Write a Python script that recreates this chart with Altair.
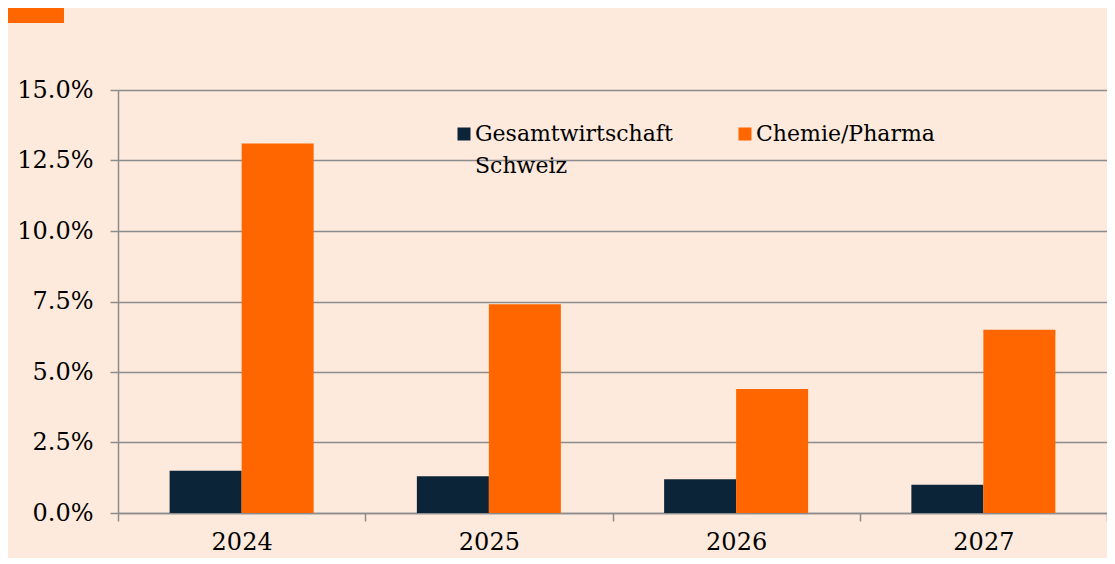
import altair as alt
import pandas as pd

years = ["2024", "2025", "2026", "2027"]
series = ["Gesamtwirtschaft Schweiz", "Chemie/Pharma"]
gesamt = [1.5, 1.3, 1.2, 1.0]
chemie = [13.1, 7.4, 4.4, 6.5]
y_ticks = [0, 2.5, 5, 7.5, 10, 12.5, 15]
colors = ["#0b2437", "#ff6600"]

rows = []
for i, yr in enumerate(years):
    rows.append({"year": yr, "series": series[0], "value": gesamt[i] / 100})
    rows.append({"year": yr, "series": series[1], "value": chemie[i] / 100})
df = pd.DataFrame(rows)

font = "DejaVu Serif"
grey = "#8c8c8c"

label_expr = (
    "datum.label == 'Gesamtwirtschaft Schweiz' ? ['Gesamtwirtschaft', 'Schweiz'] "
    ": [datum.label, '']"
)

bars = alt.Chart(df).mark_bar().encode(
    x=alt.X(
        "year:N", sort=years,
        scale=alt.Scale(paddingInner=0, paddingOuter=0),
        axis=alt.Axis(title=None, labelAngle=0, tickBand="extent", domainColor=grey,
                      domainWidth=1.5, tickColor=grey, tickWidth=1.5, tickSize=8,
                      labelFont=font, labelFontSize=24, labelColor="black",
                      labelPadding=9, grid=False),
    ),
    xOffset=alt.XOffset("series:N", sort=series,
                        scale=alt.Scale(paddingInner=0, paddingOuter=0.717)),
    y=alt.Y(
        "value:Q", scale=alt.Scale(domain=[0, 0.15]),
        axis=alt.Axis(title=None, values=[t / 100 for t in y_ticks], format=".1%",
                      domainColor=grey, domainWidth=1.5, tickColor=grey, tickWidth=1.5,
                      tickSize=8, grid=True, gridColor=grey, gridWidth=1.5,
                      labelFont=font, labelFontSize=24, labelColor="black",
                      labelPadding=17),
    ),
    color=alt.Color(
        "series:N", sort=series,
        scale=alt.Scale(domain=series, range=colors),
        legend=alt.Legend(
            title=None, orient="none", legendX=335, legendY=33,
            direction="horizontal", columns=2, columnPadding=61,
            symbolType="square", symbolSize=169, symbolStrokeWidth=0,
            symbolOpacity=1, labelOffset=0, labelFont=font, labelFontSize=22,
            labelColor="black", labelBaseline="middle", labelLimit=500,
            labelExpr=label_expr,
        ),
    ),
)

deco = alt.Chart(pd.DataFrame({"k": [0]})).mark_rect(color="#ff6600").encode(
    x=alt.value(-110), x2=alt.value(-54), y=alt.value(-82), y2=alt.value(-67)
)

chart = alt.layer(bars, deco).properties(
    width=989, height=423,
    autosize=alt.AutoSizeParams(type="none"),
    padding={"left": 110, "top": 82, "right": 0, "bottom": 45},
    background="#fdeadc",
).configure_view(stroke=None).configure(
    style={"guide-label": {"lineHeight": 32}}
)

chart.save("out.html", embed_options={"renderer": "svg", "actions": False})
